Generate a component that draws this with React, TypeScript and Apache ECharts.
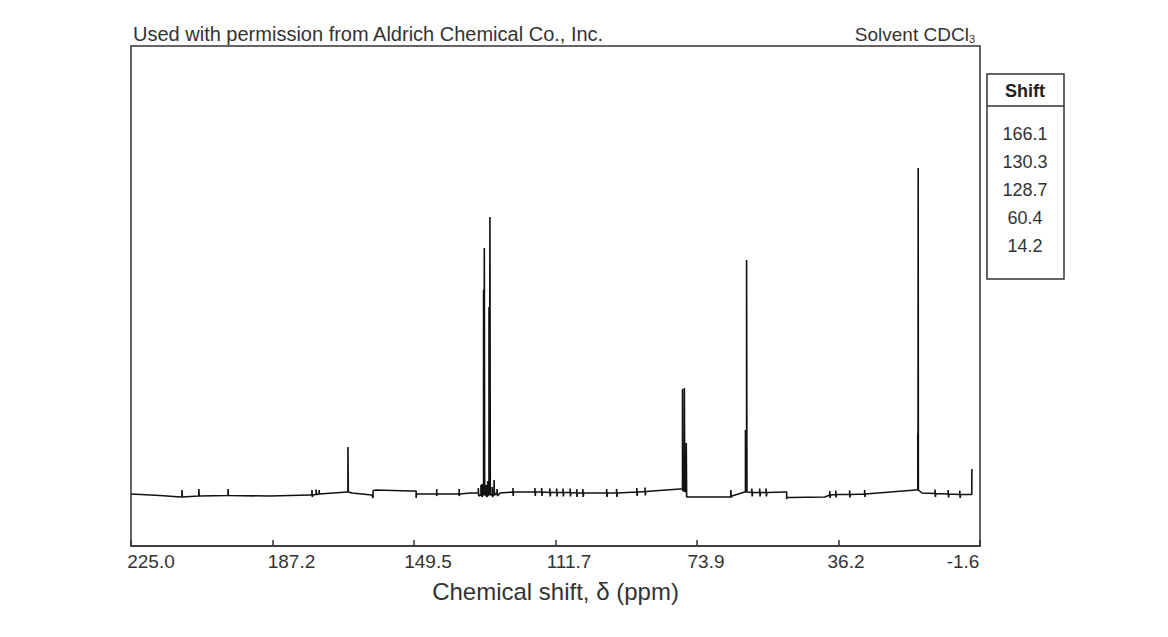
import React, { useEffect, useRef } from "react";
import * as echarts from "echarts";

// Axis tick labels (ppm), left to right
const tickLabels = ["225.0", "187.2", "149.5", "111.7", "73.9", "36.2", "-1.6"];
// Shift table values
const shiftValues = ["166.1", "130.3", "128.7", "60.4", "14.2"];

// Spectrum trace: [ppm, intensity]
const trace: [number, number][] = [
  [225.0, -0.2], [217.3, -0.5], [211.7, -0.8],
  [211.4, -0.8], [211.4, 0.6], [211.3, -0.8],
  [206.9, -0.6], [206.9, 0.8], [206.8, -0.6],
  [199.1, -0.5], [199.1, 0.8], [199.0, -0.5],
  [187.9, -0.6], [177.2, -0.4],
  [176.7, -0.4], [176.7, 0.6], [176.6, -0.8], [176.5, -0.4],
  [175.6, -0.3], [175.6, 0.7], [175.5, -0.3],
  [174.8, -0.2], [174.8, 0.6], [174.7, -0.2],
  [167.3, 0.2], [167.1, 0.2], [167.1, 9.2], [167.0, 0.2],
  [166.0, 0.0], [160.7, -0.4],
  [160.4, -1.0], [160.4, 0.4], [160.2, 0.5],
  [159.6, 0.6], [150.5, 0.4], [149.7, 0.4],
  [148.9, 0.4], [148.9, -1.0], [148.8, -0.2],
  [147.9, -0.2],
  [143.4, -0.2], [143.4, 0.8], [143.4, -0.6], [143.3, -0.2],
  [137.4, -0.2], [137.4, 0.8], [137.4, -0.6], [137.3, -0.2],
  [134.5, 0.0],
  [132.3, 0.0], [132.3, 1.0], [132.2, -0.6],
  [131.6, -0.4], [131.6, 1.6], [131.5, -0.4],
  [131.3, -0.2], [131.3, 1.8], [131.3, -0.8],
  [130.9, -0.2], [130.9, 40.6], [130.8, -0.2],
  [130.7, -0.2], [130.7, 49.0], [130.6, -0.4],
  [130.2, -0.4], [130.2, 1.6], [130.1, -0.8],
  [129.8, -0.4], [129.8, 2.4], [129.7, -0.6],
  [129.45, -0.2], [129.45, 37.2], [129.35, -0.2],
  [129.2, -0.2], [129.2, 55.2], [129.1, -0.4],
  [128.6, -0.4], [128.6, 1.2], [128.5, -0.8],
  [128.1, -0.2], [128.1, 2.6], [128.0, -0.4],
  [127.3, 0.0], [127.3, 0.8], [127.2, -0.6],
  [126.5, 0.0],
  [123.05, 0.2], [123.05, 1.0], [123.0, -0.6], [122.9, 0.2],
  [117.2, 0.2], [117.2, 1.0], [117.1, -0.6], [117.0, 0.2],
  [115.4, 0.2], [115.4, 1.0], [115.3, -0.6], [115.2, 0.2],
  [113.2, 0.1], [113.2, 0.9], [113.1, -0.7], [113.0, 0.1],
  [111.4, 0.1], [111.4, 0.9], [111.3, -0.7], [111.2, 0.1],
  [109.7, 0.1], [109.7, 0.9], [109.6, -0.7], [109.5, 0.1],
  [107.8, 0.1], [107.8, 0.9], [107.7, -0.7], [107.6, 0.1],
  [106.05, 0.0], [106.05, 0.8], [105.95, -0.8], [105.85, 0.0],
  [104.4, 0.0], [104.4, 0.8], [104.3, -0.8], [104.2, 0.0],
  [98.05, 0.0], [98.05, 0.8], [97.95, -0.8], [97.85, 0.0],
  [95.4, 0.0], [95.4, 0.8], [95.3, -0.8], [95.2, 0.0],
  [90.0, 0.2], [90.0, 1.0], [89.9, -0.6], [89.8, 0.2],
  [87.8, 0.3], [87.8, 1.1], [87.7, -0.5], [87.6, 0.3],
  [78.5, 0.8], [78.1, 0.8],
  [77.8, 0.8], [77.8, 20.8], [77.7, 0.4],
  [77.3, 0.4], [77.3, 21.0], [77.2, 0.4],
  [76.8, 0.2], [76.8, 10.0], [76.7, -0.8],
  [76.6, -0.8], [65.1, -0.8],
  [64.9, -0.8], [64.9, 0.6], [64.8, -0.9], [64.6, -0.6],
  [61.2, 0.2],
  [61.0, 0.2], [61.0, 12.6], [60.9, 0.2],
  [60.7, 0.2], [60.7, 46.6], [60.6, 0.2],
  [59.3, 0.1], [59.3, 0.9], [59.2, -0.7], [59.1, 0.1],
  [57.2, 0.1], [57.2, 0.9], [57.1, -0.7], [57.0, 0.1],
  [55.5, 0.1], [55.5, 0.9], [55.4, -0.7], [55.3, 0.1],
  [50.5, 0.2], [50.0, 0.2], [50.0, -1.2], [49.9, -0.9],
  [49.1, -0.9], [39.8, -0.8],
  [38.5, -0.4], [38.5, 0.4], [38.4, -1.0], [38.3, -0.4],
  [36.9, -0.3], [36.9, 0.5], [36.8, -0.9], [36.7, -0.3],
  [33.2, -0.3], [33.2, 0.5], [33.1, -0.9], [33.0, -0.3],
  [29.2, -0.2], [29.2, 0.6], [29.1, -0.8], [29.0, -0.2],
  [15.6, 0.6],
  [15.0, 0.6], [15.0, 12.0], [14.95, 0.6],
  [14.9, 0.6], [14.9, 65.0], [14.85, 0.6],
  [13.9, 0.0],
  [10.4, -0.1], [10.4, 0.7], [10.3, -0.8], [10.2, -0.1],
  [6.9, -0.2], [6.9, 0.6], [6.8, -0.9], [6.7, -0.2],
  [3.8, -0.3], [3.8, 0.5], [3.7, -1.0], [3.6, -0.3],
  [1.7, -0.3], [0.6, -0.3], [0.56, 4.8],
];

const PPM_LEFT = 225.0;
const PPM_STEP = 226.6 / 6;

export default function App() {
  const ref = useRef<HTMLDivElement>(null);

  useEffect(() => {
    if (!ref.current) return;
    const chart = echarts.init(ref.current, null, { renderer: "svg" });
    const font = "'Liberation Sans', Arial, Helvetica, sans-serif";
    const txt = "#333";
    const seriesData = trace.map(([ppm, v]) => [(PPM_LEFT - ppm) / PPM_STEP, v]);
    const pads: number[][] = [
      [0, 0, 0, 40],
      [0, 0, 0, 38],
      [0, 0, 0, 28],
      [0, 0, 0, 27],
      [0, 0, 0, 18],
      [0, 0, 0, 15],
      [0, 34, 0, 0],
    ];
    const rich: Record<string, any> = {};
    pads.forEach((p, i) => {
      rich["t" + i] = { padding: p, fontSize: 19, fontFamily: font, color: txt };
    });

    const shiftTexts = shiftValues.map((s, i) => ({
      type: "text",
      x: 1025,
      y: 134 + i * 28,
      style: {
        text: s,
        fontSize: 18,
        fontFamily: font,
        fill: txt,
        align: "center",
        verticalAlign: "middle",
      },
    }));

    chart.setOption({
      animation: false,
      backgroundColor: "#fff",
      grid: {
        left: 131,
        right: 188,
        top: 46,
        bottom: 91,
        show: true,
        borderColor: "#333",
        borderWidth: 1.5,
        backgroundColor: "transparent",
      },
      xAxis: {
        type: "value",
        min: 0,
        max: 6,
        interval: 1,
        name: "Chemical shift, δ (ppm)",
        nameLocation: "middle",
        nameGap: 33,
        nameTextStyle: { fontSize: 24, fontFamily: font, color: txt },
        axisLine: { show: true, onZero: false, lineStyle: { color: "#333", width: 1.5 } },
        axisTick: { show: true, inside: true, length: 6, lineStyle: { color: "#333", width: 1.5 } },
        splitLine: { show: false },
        axisLabel: {
          interval: 0,
          margin: 6,
          fontSize: 19,
          fontFamily: font,
          color: txt,
          formatter: (v: number) => {
            const i = Math.round(v);
            return `{t${i}|${tickLabels[i]}}`;
          },
          rich,
        },
      },
      yAxis: {
        type: "value",
        min: -10.6,
        max: 89.4,
        show: false,
        splitLine: { show: false },
      },
      series: [
        {
          type: "line",
          data: seriesData,
          showSymbol: false,
          symbol: "none",
          lineStyle: { color: "#111", width: 1.6 },
          silent: true,
        },
      ],
      graphic: [
        {
          type: "text",
          x: 133,
          y: 34,
          style: {
            text: "Used with permission from Aldrich Chemical Co., Inc.",
            fontSize: 20,
            fontFamily: font,
            fill: txt,
            align: "left",
            verticalAlign: "middle",
          },
        },
        {
          type: "text",
          x: 975,
          y: 33,
          style: {
            text: "{a|Solvent CDCl}{s|3}",
            align: "right",
            verticalAlign: "middle",
            rich: {
              a: { fontSize: 19, fontFamily: font, fill: txt, color: txt, lineHeight: 22, verticalAlign: "bottom" },
              s: { fontSize: 11, fontFamily: font, fill: txt, color: txt, lineHeight: 14, verticalAlign: "bottom" },
            },
          },
        },
        {
          type: "rect",
          shape: { x: 987, y: 74, width: 77, height: 205 },
          style: { fill: "#fff", stroke: "#333", lineWidth: 1.5 },
        },
        {
          type: "line",
          shape: { x1: 987, y1: 106, x2: 1064, y2: 106 },
          style: { stroke: "#333", lineWidth: 1.5 },
        },
        {
          type: "text",
          x: 1025,
          y: 91,
          style: {
            text: "Shift",
            fontSize: 18,
            fontWeight: "bold",
            fontFamily: font,
            fill: "#222",
            align: "center",
            verticalAlign: "middle",
          },
        },
        ...shiftTexts,
      ],
    });
    return () => chart.dispose();
  }, []);

  return (
    <div
      ref={ref}
      style={{ position: "fixed", left: 0, top: 0, width: 1168, height: 637, background: "#fff" }}
    />
  );
}
